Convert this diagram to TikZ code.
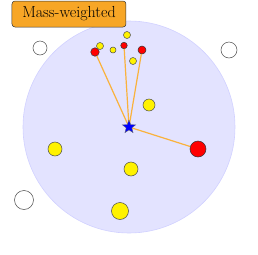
\documentclass[tikz,border=0pt]{standalone}
\usetikzlibrary{shapes.geometric}
\definecolor{gold}{RGB}{247,166,38}
\definecolor{goldline}{RGB}{250,178,60}
\begin{document}
\begin{tikzpicture}[x=1pt,y=-1pt,
  gal/.style={circle,draw=black!70,line width=0.5pt,inner sep=0pt,minimum size=#1},
  yel/.style={gal=#1,fill=yellow},
  redg/.style={gal=#1,fill=red,draw=black!80},
  emp/.style={gal=#1,fill=white},
  centre/.style={star,star points=5,star point ratio=2.4,fill=blue,draw=black!60,line width=0.3pt,inner sep=0pt,minimum size=14pt},
  link/.style={goldline,line width=1.2pt}]
\useasboundingbox (0,0) rectangle (258,255);
\fill[blue!11,draw=blue!18,line width=0.6pt] (129,127) circle (106);
% outer empty circles
\node[emp=14pt] (w1) at (40,48) {};
\node[emp=16pt] (w2) at (229,50) {};
\node[emp=19pt] (w3) at (24,200) {};
% centre coordinate
\coordinate (s) at (129,127);
% red
\node[redg=8.5pt] (r1) at (95,52) {};
\node[redg=6.5pt] (r2) at (124,45.5) {};
\node[redg=8pt] (r3) at (142,50) {};
\node[redg=16pt] (r4) at (198,149) {};
% links
\draw[link] (s) -- (r1);
\draw[link] (s) -- (r2);
\draw[link] (s) -- (r3);
\draw[link] (s) -- (r4);
\node[centre] (star) at (s) {};
% yellow
\node[yel=7pt] (y1) at (100,46) {};
\node[yel=7pt] (y2) at (127,35) {};
\node[yel=6pt] (y3) at (113,50) {};
\node[yel=7pt] (y4) at (133,61) {};
\node[yel=12pt] (y5) at (149,105) {};
\node[yel=14pt] (y6) at (55,149) {};
\node[yel=14pt] (y7) at (131,169) {};
\node[yel=17pt] (y8) at (120,211) {};
% label
\node[draw=black!80,fill=gold,rounded corners=3pt,line width=0.5pt,minimum width=114pt,minimum height=26pt,inner sep=0pt,font=\fontsize{16}{19}\selectfont] (lab) at (69,14) {Mass-weighted};
\end{tikzpicture}
\end{document}
